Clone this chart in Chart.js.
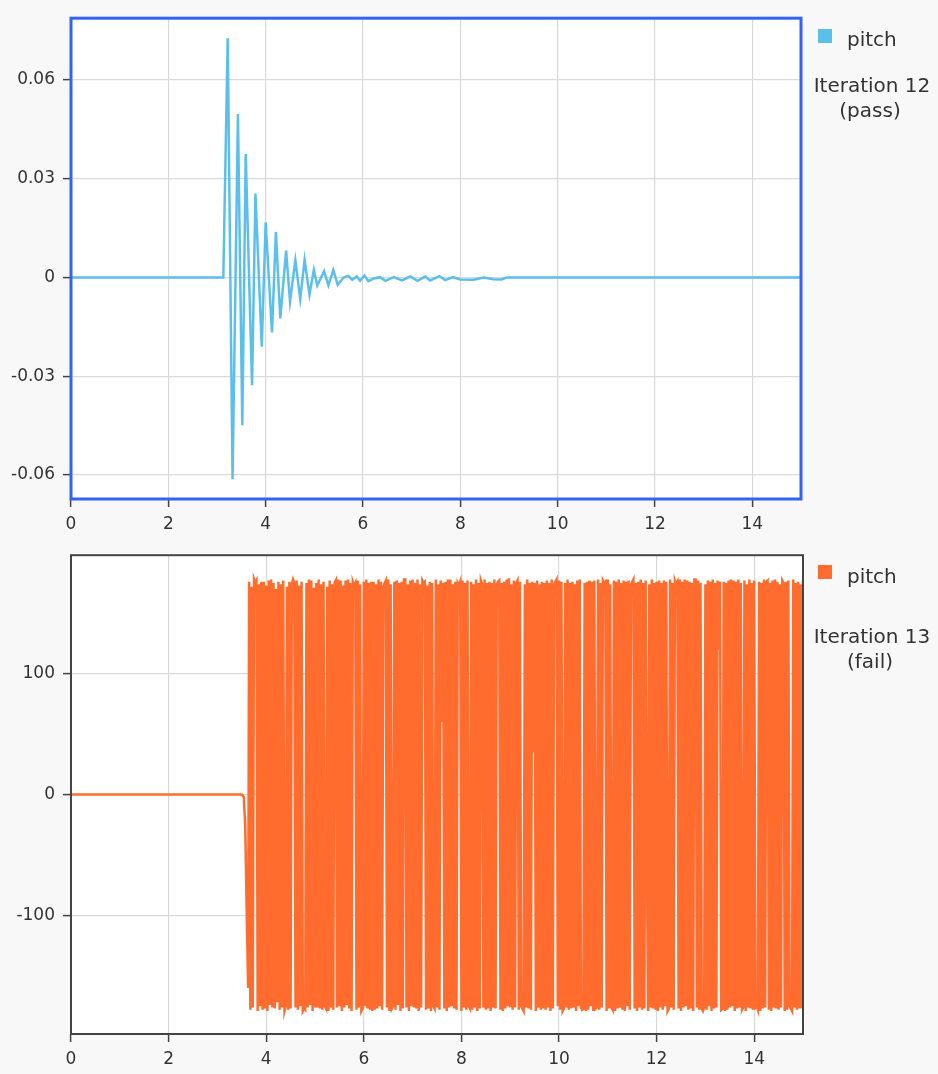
<!DOCTYPE html>
<html><head><meta charset="utf-8">
<script src="https://cdn.jsdelivr.net/npm/chart.js@4/dist/chart.umd.min.js"></script>
<style>
html,body{margin:0;padding:0;background:#f8f8f8;}
#wrap{position:relative;width:938px;height:1074px;}
canvas{position:absolute;left:0;}
</style></head><body>
<div id="wrap">
<canvas id="c1" width="938" height="537" style="top:0px"></canvas>
<canvas id="c2" width="938" height="537" style="top:537px"></canvas>
</div>
<script>
// ---- data ----
const seriesName = 'pitch';
const xTickLabels = [0, 2, 4, 6, 8, 10, 12, 14];
const passYTicks = [-0.06, -0.03, 0, 0.03, 0.06];
const failYTicks = [-100, 0, 100];
const passTitle = ['Iteration 12', '(pass)'];
const failTitle = ['Iteration 13', '(fail)'];

const passTimes = [0, 3.13, 3.22, 3.32, 3.43, 3.52, 3.59, 3.72, 3.79, 3.92,
  4.00, 4.13, 4.21, 4.30, 4.42, 4.50, 4.61, 4.71, 4.80, 4.90,
  4.99, 5.06, 5.20, 5.29, 5.39, 5.48, 5.60, 5.70, 5.78, 5.87,
  5.94, 6.03, 6.11, 6.22, 6.35, 6.46, 6.63, 6.80, 6.97, 7.12,
  7.28, 7.38, 7.57, 7.69, 7.85, 8.00, 8.27, 8.48, 8.68, 8.85,
  8.95, 15];
const passPitch = [0, 0, 0.0727, -0.0613, 0.0497, -0.0449, 0.0375, -0.0327, 0.0255, -0.0210,
  0.0168, -0.0167, 0.0138, -0.0124, 0.0082, -0.0073, 0.0052, -0.0065, 0.0054, -0.0052,
  0.0023, -0.0024, 0.0019, -0.0024, 0.0023, -0.0022, 0, 0.0005, -0.0007, 0.0003,
  -0.0010, 0.0006, -0.0011, -0.0003, 0.0001, -0.0010, 0.0001, -0.0009, 0.0003, -0.0010,
  0.0003, -0.0009, 0.0004, -0.0008, 0.0001, -0.0006, -0.0007, 0, -0.0005, -0.0006,
  0, 0];

const failLeadTimes = [0, 3.50, 3.54, 3.57, 3.60, 3.63];
const failLeadPitch = [0, 0, -2, -25, -95, -160];
const failStart = 3.65;   // sampled signal after the divergence
const failStep = 0.025;
const failPitch = [
  176,-178,172,-176,178,175,177,-179,174,-175,176,-178,176,-177,173,-179,177,-174,178,-176,
  175,-177,170,-172,176,-178,174,-176,177,-179,-175,172,-178,176,-177,174,178,175,-176,177,
  -178,173,-175,176,-179,-177,-178,175,-176,178,-174,177,-179,171,-176,175,-176,178,-177,174,
  -178,176,-175,-177,172,-179,177,-176,174,-178,175,177,-176,178,-175,177,-179,173,-176,177,
  -174,178,-177,175,-179,176,173,175,-178,177,-176,174,-179,-177,176,-175,178,-177,175,-178,
  176,-179,176,-178,174,-177,178,-175,176,-178,172,175,177,-176,178,-179,174,-177,-175,176,
  -178,177,-174,175,-179,176,-177,178,178,-176,174,-179,177,-175,178,-176,175,-177,178,-179,
  174,-176,177,175,176,-178,173,-177,176,-179,175,-175,-177,178,-176,174,-178,177,60,175,
  -177,176,-179,178,-176,178,-175,174,-177,176,-178,175,173,176,-179,177,-176,175,-178,177,
  -175,-177,176,-178,174,-176,178,-179,175,-177,177,174,-176,178,-178,175,-177,176,-179,175,
  -176,178,-177,174,176,177,-178,175,-179,176,-177,178,-175,179,-176,174,-178,177,-176,175,
  177,-178,176,-175,-177,-179,174,-176,178,-177,175,-178,176,35,175,-179,177,-176,174,-178,
  176,-177,175,-178,177,-176,175,-179,178,-177,174,176,178,-175,177,-178,176,-179,-177,175,
  -176,178,-178,175,-177,176,-176,174,-179,177,-175,178,-176,-178,-177,175,-179,176,-178,177,
  -175,176,-179,177,-177,-176,178,-178,175,-176,177,175,176,-179,178,-177,174,-176,-178,177,
  -179,176,-177,178,-176,175,-178,177,-179,176,-175,177,-178,174,176,178,-177,175,-179,176,
  -176,178,-178,175,-177,177,-40,-179,174,-176,178,-177,175,-178,176,-179,177,-176,175,-178,
  177,-175,176,-179,-177,178,-176,175,-178,177,174,176,-177,178,-179,176,-176,178,-175,177,
  -178,176,-177,175,-179,178,178,-176,177,-178,175,-177,-179,-176,174,-178,177,-175,176,-179,
  178,-177,175,-176,177,120,176,-178,-177,176,-179,175,-178,177,-176,178,-175,177,-179,176,
  -177,178,-176,175,-178,-176,177,-179,174,-176,178,-177,175,-178,177,-176,-175,-178,176,-179,
  175,-177,178,-176,176,177,-178,175,-179,177,-176,178,-177,176,-178,174,-176,177,175,-179,
  176,-178,177,-175,-177,-179,178,-176,175,-178,176,-177,174,-177,178,-176,175,-179,-177,176,
  -178,177,-176,175,-179,176,-177,178
];

// ---- styles ----
const passColor = '#5bbfeb';
const failColor = '#ff6c2e';
const tickFont = {family: 'DejaVu Sans', size: 17};
const textColor = '#333333';

function sidePanel(opts) {
  return {
    id: 'sidePanel',
    beforeDraw(chart) {
      const {ctx, chartArea: a} = chart;
      ctx.save();
      ctx.fillStyle = '#ffffff';
      ctx.fillRect(a.left, a.top, a.right - a.left, a.bottom - a.top);
      ctx.restore();
    },
    afterDraw(chart) {
      const {ctx, chartArea: a} = chart;
      ctx.save();
      ctx.strokeStyle = opts.frameColor;
      ctx.lineWidth = opts.frameWidth;
      ctx.strokeRect(a.left, a.top, a.right - a.left, a.bottom - a.top);
      const ds = chart.data.datasets[0];
      const lx = 818;
      ctx.fillStyle = ds.borderColor;
      ctx.fillRect(lx, opts.boxTop, 14, 14);
      ctx.fillStyle = textColor;
      ctx.font = '20px "DejaVu Sans"';
      ctx.textBaseline = 'alphabetic';
      ctx.textAlign = 'left';
      ctx.fillText(ds.label, 847, opts.labelBase);
      ctx.textAlign = 'center';
      ctx.fillText(opts.title[0], 872, opts.titleBase[0]);
      ctx.fillText(opts.title[1], 870, opts.titleBase[1]);
      ctx.restore();
    }
  };
}

function makeChart(id, points, color, lineW, yMin, yMax, yTicks, pad, xHeight, panel) {
  return new Chart(document.getElementById(id), {
    type: 'line',
    data: {datasets: [{label: seriesName, data: points, borderColor: color, backgroundColor: color,
      borderWidth: lineW, pointRadius: 0, tension: 0, fill: false}]},
    options: {
      responsive: false, animation: false, devicePixelRatio: 1,
      layout: {padding: pad},
      plugins: {legend: {display: false}, tooltip: {enabled: false}},
      scales: {
        x: {type: 'linear', min: 0, max: 15,
          afterBuildTicks: s => { s.ticks = xTickLabels.map(v => ({value: v})); },
          afterFit: s => { s.height = xHeight; },
          grid: {color: '#d9d9d9', lineWidth: 1.2, tickColor: '#444', tickLength: 8, tickWidth: 1.5},
          border: {display: false},
          ticks: {font: tickFont, color: textColor, padding: 7, maxRotation: 0, autoSkip: false,
            callback: v => String(v)}},
        y: {type: 'linear', min: yMin, max: yMax,
          afterBuildTicks: s => { s.ticks = yTicks.map(v => ({value: v})); },
          afterFit: s => { s.width = 71; },
          grid: {color: '#d9d9d9', lineWidth: 1.2, tickColor: '#444', tickLength: 8, tickWidth: 1.5},
          border: {display: false},
          ticks: {font: tickFont, color: textColor, padding: 8, autoSkip: false,
            callback: v => String(v)}}
      }
    },
    plugins: [panel]
  });
}

const passPoints = passTimes.map((t, i) => ({x: t, y: passPitch[i]}));
const failPoints = failLeadTimes.map((t, i) => ({x: t, y: failLeadPitch[i]}))
  .concat(failPitch.map((v, i) => ({x: failStart + i * failStep, y: v})));

makeChart('c1', passPoints, passColor, 2.5, -0.0673, 0.0788, passYTicks,
  {top: 17, right: 137, bottom: 0, left: 0}, 38,
  sidePanel({frameColor: '#3461f6', frameWidth: 3, boxTop: 29, labelBase: 46,
    title: passTitle, titleBase: [92, 117]}));

makeChart('c2', failPoints, failColor, 2.5, -198, 198, failYTicks,
  {top: 11, right: 135, bottom: 0, left: 0}, 40,
  sidePanel({frameColor: '#444444', frameWidth: 2, boxTop: 28, labelBase: 46,
    title: failTitle, titleBase: [106, 131]}));
</script>
</body></html>
